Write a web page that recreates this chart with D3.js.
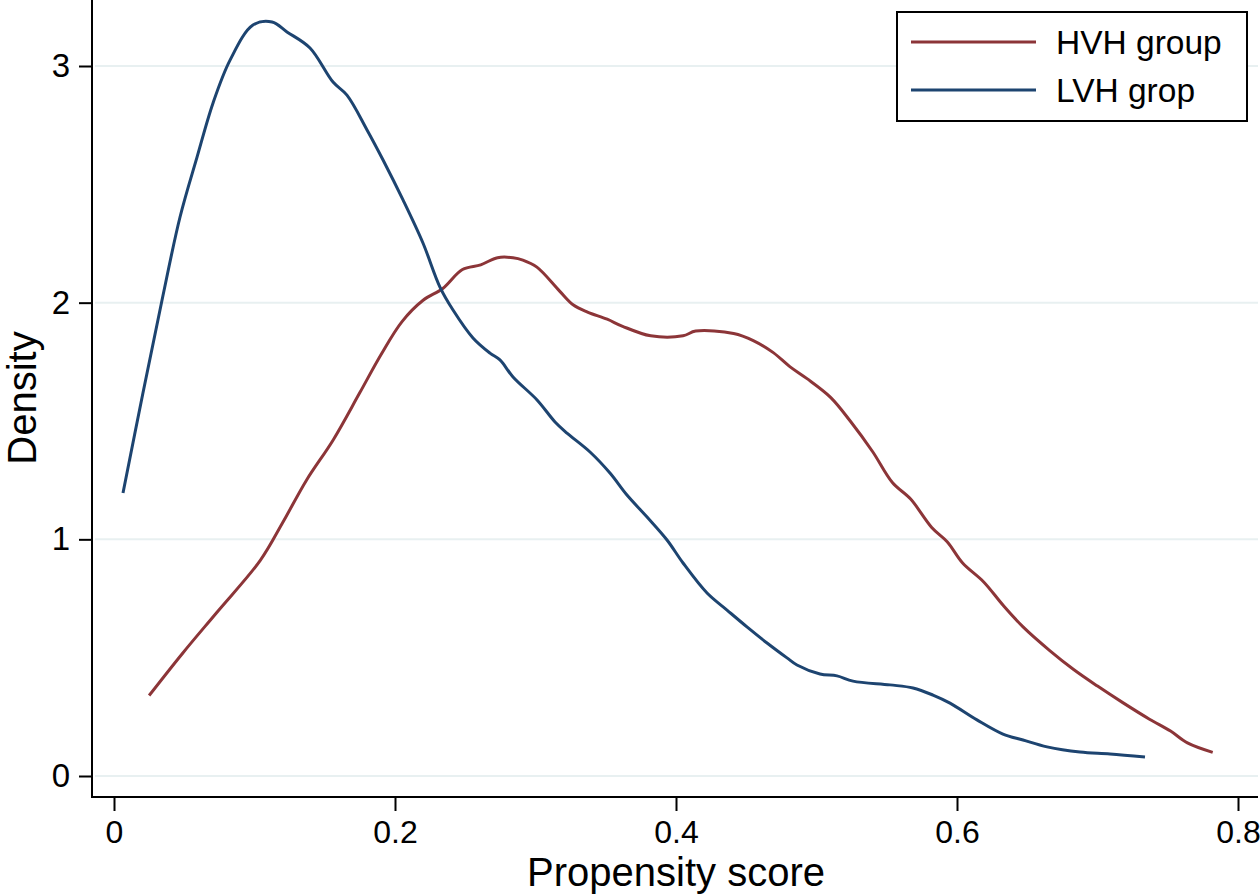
<!DOCTYPE html>
<html>
<head>
<meta charset="utf-8">
<script src="https://cdn.jsdelivr.net/npm/d3@7"></script>
<style>
  html, body { margin: 0; padding: 0; background: #fff; }
  svg { display: block; font-family: "Liberation Sans", Arial, Helvetica, sans-serif; }
</style>
</head>
<body>
<svg id="chart" width="1260" height="896"></svg>
<script>
const xTicks = [0, 0.2, 0.4, 0.6, 0.8];
const xTickLabels = ["0", "0.2", "0.4", "0.6", "0.8"];
const yTicks = [0, 1, 2, 3];
const yTickLabels = ["0", "1", "2", "3"];
const seriesNames = ["HVH group", "LVH grop"];
const seriesColors = ["#8c3538", "#1d4470"];

const hvhX = [0.025,0.049,0.073,0.104,0.120,0.137,0.156,0.175,0.190,0.205,0.220,0.234,0.248,0.261,0.273,0.284,0.291,0.301,0.317,0.327,0.337,0.351,0.362,0.382,0.405,0.414,0.441,0.455,0.469,0.481,0.493,0.510,0.524,0.540,0.554,0.567,0.582,0.593,0.604,0.619,0.633,0.647,0.666,0.683,0.700,0.718,0.737,0.752,0.764,0.782];
const hvhY = [0.34,0.52,0.69,0.91,1.07,1.25,1.42,1.62,1.78,1.92,2.01,2.06,2.14,2.16,2.19,2.19,2.18,2.15,2.05,1.99,1.96,1.93,1.90,1.86,1.86,1.88,1.87,1.84,1.79,1.73,1.68,1.60,1.50,1.37,1.24,1.17,1.05,0.99,0.90,0.82,0.72,0.63,0.53,0.45,0.38,0.31,0.24,0.19,0.14,0.10];

const lvhX = [0.0064,0.0206,0.0342,0.0470,0.0591,0.0705,0.0826,0.0989,0.1125,0.1231,0.1395,0.1559,0.1658,0.1801,0.1915,0.2057,0.2199,0.2320,0.2413,0.2555,0.2676,0.2747,0.2840,0.3011,0.3139,0.3224,0.3388,0.3530,0.3651,0.3794,0.3936,0.4050,0.4221,0.4363,0.4505,0.4648,0.4790,0.4861,0.5025,0.5146,0.5260,0.5523,0.5687,0.5829,0.5950,0.6142,0.6327,0.6470,0.6641,0.6875,0.7089,0.7338];
const lvhY = [1.196,1.618,2.011,2.362,2.615,2.844,3.025,3.173,3.186,3.144,3.076,2.932,2.877,2.730,2.603,2.434,2.252,2.066,1.969,1.851,1.787,1.758,1.686,1.589,1.496,1.449,1.369,1.280,1.187,1.094,0.997,0.900,0.773,0.701,0.630,0.562,0.499,0.469,0.431,0.423,0.401,0.385,0.372,0.342,0.308,0.237,0.177,0.152,0.123,0.101,0.093,0.080];

const svg = d3.select("#chart");
const x = d3.scaleLinear().domain([0, 0.8]).range([114, 1238]);
const y = d3.scaleLinear().domain([0, 3]).range([776, 66]);

// gridlines
svg.append("g").selectAll("line").data(yTicks).join("line")
  .attr("x1", 95).attr("x2", 1258)
  .attr("y1", d => y(d)).attr("y2", d => y(d))
  .attr("stroke", "#e8f0f1").attr("stroke-width", 2);

// y axis
const yAxis = svg.append("g").attr("transform", "translate(92,0)")
  .call(d3.axisLeft(y).tickValues(yTicks).tickFormat((d, i) => yTickLabels[i]).tickSize(13).tickPadding(9));
yAxis.select(".domain").remove();
yAxis.selectAll(".tick line").attr("stroke", "#000").attr("stroke-width", 2);
yAxis.selectAll(".tick text").attr("font-size", 33).attr("fill", "#000").attr("font-family", "Liberation Sans, Arial, sans-serif");

// x axis
const xAxis = svg.append("g").attr("transform", "translate(0,797)")
  .call(d3.axisBottom(x).tickValues(xTicks).tickFormat((d, i) => xTickLabels[i]).tickSize(14).tickPadding(9));
xAxis.select(".domain").remove();
xAxis.selectAll(".tick line").attr("stroke", "#000").attr("stroke-width", 2);
xAxis.selectAll(".tick text").attr("font-size", 32).attr("fill", "#000").attr("font-family", "Liberation Sans, Arial, sans-serif");

// axis lines
svg.append("line").attr("x1", 92).attr("x2", 92).attr("y1", 0).attr("y2", 798)
  .attr("stroke", "#000").attr("stroke-width", 2);
svg.append("line").attr("x1", 91).attr("x2", 1258).attr("y1", 797).attr("y2", 797)
  .attr("stroke", "#000").attr("stroke-width", 2);

// lines
const line = d3.line().x(d => x(d[0])).y(d => y(d[1])).curve(d3.curveCatmullRom);
const series = [d3.zip(hvhX, hvhY), d3.zip(lvhX, lvhY)];
svg.append("g").selectAll("path").data(series).join("path")
  .attr("d", line)
  .attr("fill", "none")
  .attr("stroke", (d, i) => seriesColors[i])
  .attr("stroke-width", 3)
  .attr("stroke-linejoin", "round");

// axis titles
svg.append("text").attr("x", 676).attr("y", 886).attr("text-anchor", "middle")
  .attr("font-size", 40).attr("fill", "#000").text("Propensity score");
svg.append("text").attr("transform", "translate(36,398) rotate(-90)").attr("text-anchor", "middle")
  .attr("font-size", 40).attr("fill", "#000").text("Density");

// legend
const lg = svg.append("g");
lg.append("rect").attr("x", 897).attr("y", 12).attr("width", 350).attr("height", 109)
  .attr("fill", "#fff").attr("stroke", "#000").attr("stroke-width", 2);
seriesNames.forEach((name, i) => {
  const yy = 42 + i * 48;
  lg.append("line").attr("x1", 911).attr("x2", 1036).attr("y1", yy).attr("y2", yy)
    .attr("stroke", seriesColors[i]).attr("stroke-width", 3);
  lg.append("text").attr("x", 1056).attr("y", yy + 12).attr("font-size", 33.5).attr("fill", "#000").text(name);
});
</script>
</body>
</html>
